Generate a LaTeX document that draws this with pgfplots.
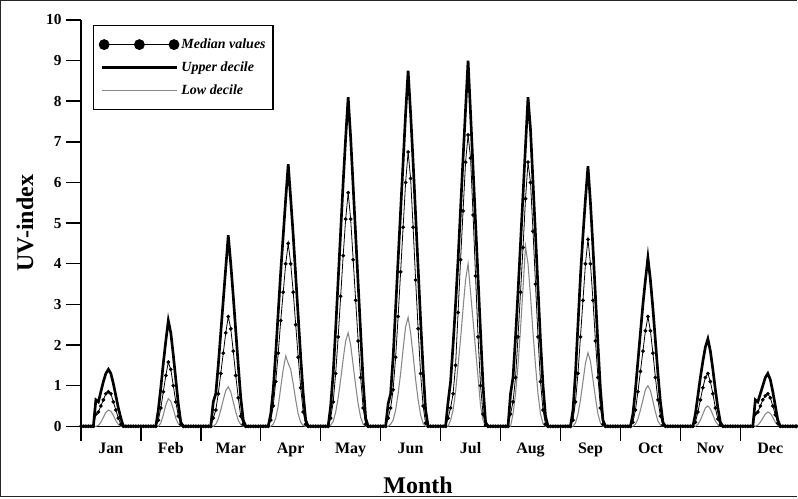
\documentclass[border=0pt]{standalone}
\usepackage{fontspec}
\setmainfont{Liberation Serif}
\usepackage{pgfplots}
\pgfplotsset{compat=1.18}
\usepackage{pgfplotstable}
\definecolor{lowgray}{RGB}{135,135,135}
\pgfplotstableread{
x up med low
0 0 0 0
1 0 0 0
2 0 0 0
3 0 0 0
4 0 0 0
5 0 0 0
6 0.65 0.3 0
7 0.6 0.35 0.02
8 0.85 0.5 0.1
9 1.1 0.65 0.22
10 1.3 0.8 0.34
11 1.4 0.85 0.4
12 1.3 0.8 0.37
13 1.05 0.6 0.27
14 0.75 0.4 0.14
15 0.45 0.2 0.04
16 0.2 0.05 0
17 0 0 0
18 0 0 0
19 0 0 0
20 0 0 0
21 0 0 0
22 0 0 0
23 0 0 0
24 0 0 0
25 0 0 0
26 0 0 0
27 0 0 0
28 0 0 0
29 0 0 0
30 0 0 0
31 0.4 0.15 0
32 0.95 0.45 0.08
33 1.55 0.85 0.28
34 2.1 1.25 0.52
35 2.6 1.58 0.68
36 2.3 1.4 0.62
37 1.75 1.0 0.42
38 1.15 0.6 0.2
39 0.55 0.25 0.06
40 0.1 0.05 0
41 0 0 0
42 0 0 0
43 0 0 0
44 0 0 0
45 0 0 0
46 0 0 0
47 0 0 0
48 0 0 0
49 0 0 0
50 0 0 0
51 0 0 0
52 0 0 0
53 0.6 0.2 0
54 0.8 0.4 0.05
55 1.5 0.8 0.18
56 2.3 1.3 0.4
57 3.1 1.8 0.65
58 3.9 2.3 0.88
59 4.7 2.7 0.97
60 4.0 2.4 0.85
61 3.2 1.85 0.6
62 2.35 1.25 0.35
63 1.5 0.7 0.15
64 0.7 0.25 0.04
65 0.15 0.05 0
66 0 0 0
67 0 0 0
68 0 0 0
69 0 0 0
70 0 0 0
71 0 0 0
72 0 0 0
73 0 0 0
74 0 0 0
75 0 0 0
76 0.3 0.15 0
77 0.9 0.5 0.05
78 1.8 1.1 0.2
79 2.8 1.8 0.5
80 3.8 2.6 0.95
81 4.7 3.3 1.4
82 5.6 4.0 1.73
83 6.45 4.5 1.55
84 5.6 4.0 1.4
85 4.7 3.3 1.05
86 3.7 2.5 0.65
87 2.7 1.7 0.3
88 1.7 0.95 0.1
89 0.8 0.35 0.02
90 0.15 0.05 0
91 0 0 0
92 0 0 0
93 0 0 0
94 0 0 0
95 0 0 0
96 0 0 0
97 0 0 0
98 0 0 0
99 0 0 0
100 0.5 0.2 0.03
101 1.3 0.6 0.12
102 2.4 1.3 0.35
103 3.6 2.2 0.7
104 4.8 3.2 1.15
105 6.0 4.2 1.65
106 7.1 5.1 2.1
107 8.1 5.75 2.3
108 7.1 5.1 2.0
109 5.9 4.1 1.5
110 4.7 3.1 1.0
111 3.5 2.1 0.55
112 2.3 1.2 0.22
113 1.1 0.45 0.05
114 0.2 0.05 0
115 0 0 0
116 0 0 0
117 0 0 0
118 0 0 0
119 0 0 0
120 0 0 0
121 0 0 0
122 0 0 0
123 0.55 0.2 0
124 0.8 0.45 0.05
125 1.7 0.9 0.15
126 2.9 1.7 0.4
127 4.1 2.7 0.8
128 5.3 3.8 1.3
129 6.5 4.9 1.9
130 7.7 6.0 2.45
131 8.75 6.75 2.68
132 7.7 6.1 2.3
133 6.5 4.9 1.75
134 5.2 3.6 1.15
135 3.9 2.4 0.65
136 2.6 1.3 0.28
137 1.4 0.5 0.07
138 0.4 0.08 0
139 0 0 0
140 0 0 0
141 0 0 0
142 0 0 0
143 0 0 0
144 0 0 0
145 0 0 0
146 0 0 0
147 0.6 0.2 0
148 1.1 0.45 0.15
149 2.0 0.8 0.4
150 3.0 1.5 0.85
151 4.1 2.8 1.5
152 5.35 4.1 2.15
153 6.6 5.3 2.9
154 7.8 6.5 3.6
155 9.0 7.17 4.0
156 7.7 6.6 3.3
157 6.35 5.2 2.6
158 5.0 3.7 1.9
159 3.65 2.2 1.2
160 2.3 1.0 0.5
161 1.0 0.3 0.15
162 0.1 0.03 0
163 0 0 0
164 0 0 0
165 0 0 0
166 0 0 0
167 0 0 0
168 0 0 0
169 0 0 0
170 0 0 0
171 0 0 0
172 0.8 0.3 0
173 1.2 0.6 0.3
174 2.2 1.2 0.8
175 3.3 2.2 1.5
176 4.5 3.3 2.4
177 5.7 4.4 3.4
178 6.9 5.6 4.43
179 8.1 6.5 4.0
180 7.3 6.0 3.2
181 6.0 4.8 2.3
182 4.7 3.5 1.5
183 3.4 2.2 0.8
184 2.1 1.1 0.3
185 1.0 0.4 0.07
186 0.25 0.05 0
187 0 0 0
188 0 0 0
189 0 0 0
190 0 0 0
191 0 0 0
192 0 0 0
193 0 0 0
194 0 0 0
195 0 0 0
196 0 0 0
197 0.4 0.15 0
198 1.3 0.6 0.08
199 2.5 1.3 0.3
200 3.7 2.2 0.65
201 4.7 3.1 1.1
202 5.6 4.0 1.55
203 6.4 4.6 1.81
204 5.5 4.0 1.6
205 4.4 3.1 1.15
206 3.2 2.1 0.7
207 2.0 1.2 0.3
208 0.9 0.45 0.08
209 0.15 0.05 0
210 0 0 0
211 0 0 0
212 0 0 0
213 0 0 0
214 0 0 0
215 0 0 0
216 0 0 0
217 0 0 0
218 0 0 0
219 0 0 0
220 0 0 0
221 0.3 0.1 0
222 0.9 0.4 0.05
223 1.6 0.85 0.18
224 2.3 1.35 0.4
225 3.0 1.85 0.65
226 3.6 2.35 0.9
227 4.15 2.7 1.0
228 3.6 2.35 0.88
229 2.9 1.8 0.62
230 2.1 1.2 0.35
231 1.3 0.65 0.13
232 0.6 0.25 0.03
233 0.1 0.03 0
234 0 0 0
235 0 0 0
236 0 0 0
237 0 0 0
238 0 0 0
239 0 0 0
240 0 0 0
241 0 0 0
242 0 0 0
243 0 0 0
244 0 0 0
245 0 0 0
246 0.3 0.1 0
247 0.75 0.35 0.05
248 1.2 0.65 0.15
249 1.6 0.95 0.3
250 1.95 1.2 0.45
251 2.15 1.3 0.5
252 1.85 1.1 0.43
253 1.4 0.8 0.28
254 0.9 0.45 0.13
255 0.45 0.18 0.04
256 0.1 0.03 0
257 0 0 0
258 0 0 0
259 0 0 0
260 0 0 0
261 0 0 0
262 0 0 0
263 0 0 0
264 0 0 0
265 0 0 0
266 0 0 0
267 0 0 0
268 0 0 0
269 0 0 0
270 0.65 0.3 0
271 0.6 0.35 0.03
272 0.8 0.5 0.1
273 1.0 0.65 0.2
274 1.2 0.75 0.3
275 1.3 0.8 0.35
276 1.15 0.7 0.32
277 0.85 0.5 0.22
278 0.5 0.28 0.1
279 0.15 0.08 0.02
280 0 0 0
281 0 0 0
282 0 0 0
283 0 0 0
284 0 0 0
285 0 0 0
286 0 0 0
286.5 0 0 0
}\uvdata
\begin{document}
\begin{tikzpicture}
\begin{axis}[
  scale only axis, width=537.75pt, height=305.25pt,
  xmin=0, xmax=286.56, ymin=0, ymax=10,
  axis x line*=bottom, axis y line*=left,
  axis line style={line width=1.1pt, black},
  tick align=outside, major tick length=11pt,
  tick style={line width=1.1pt, black},
  xtick={0,24,...,264},
  xticklabels={Jan,Feb,Mar,Apr,May,Jun,Jul,Aug,Sep,Oct,Nov,Dec},
  xticklabel style={font=\bfseries\fontsize{12}{14}\selectfont, xshift=22.52pt, yshift=2.5pt,
    text height=8.3pt, text depth=2.6pt},
  ytick={0,1,...,10},
  yticklabel style={font=\bfseries\fontsize{11.5}{13}\selectfont, xshift=0pt},
  /pgf/number format/assume math mode=true,
  xlabel={\textbf{Month}}, ylabel={\textbf{UV-index}},
  xlabel style={font=\fontsize{18}{20}\selectfont, at={(rel axis cs:0.471,-0.145)}, anchor=center},
  ylabel style={font=\fontsize{18}{20}\selectfont, at={(rel axis cs:-0.078,0.5)}, anchor=center},
  clip=false,
  reverse legend,
  legend cell align=left,
  legend style={at={(rel axis cs:0.0167,0.988)}, anchor=north west, draw=black, line width=0.9pt,
    font=\bfseries\itshape\fontsize{10.5}{12}\selectfont, inner xsep=4pt, inner ysep=8.5pt,
    row sep=5.5pt, nodes={inner sep=1.5pt}},
]
\addplot[lowgray, line width=0.8pt,
  legend image code/.code={\draw[lowgray, line width=0.8pt] (0pt,0pt) -- (56pt,0pt);}]
  table[x=x, y=low]{\uvdata};
\addlegendentry{Low decile}
\addplot[black, line width=2pt,
  legend image code/.code={\draw[black, line width=2pt] (0pt,0pt) -- (56pt,0pt);}]
  table[x=x, y=up]{\uvdata};
\addlegendentry{Upper decile}
\addplot[black, line width=0.6pt, mark=*, mark size=1.1pt, mark options={solid, fill=black},
  legend image code/.code={\draw[black, line width=0.6pt] (1.5pt,0pt) -- (54pt,0pt);
    \fill[black] (1.5pt,0pt) circle[radius=3.75pt] (28pt,0pt) circle[radius=3.75pt] (54pt,0pt) circle[radius=3.75pt];}]
  table[x=x, y=med]{\uvdata};
\addlegendentry{Median values}
\draw[line width=0.75pt, black!85] (rel axis cs:1,1.0479) -- (rel axis cs:-0.1123,1.0479) -- (rel axis cs:-0.1123,-0.1732) -- (rel axis cs:1,-0.1732);
\path (rel axis cs:-0.11297,1.04914) rectangle (rel axis cs:1,-0.17445);
\end{axis}
\end{tikzpicture}
\end{document}
